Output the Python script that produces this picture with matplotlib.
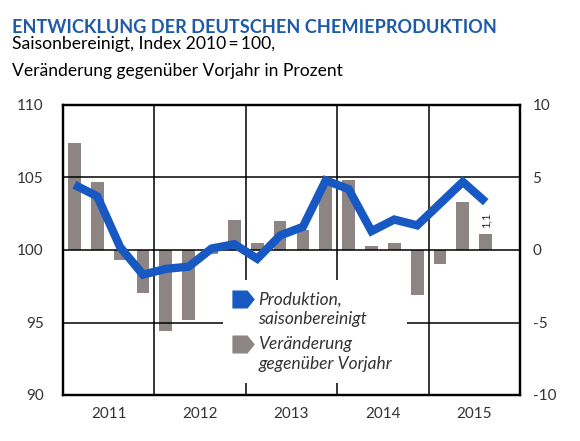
import matplotlib
matplotlib.use("Agg")
import matplotlib.pyplot as plt
import numpy as np
from matplotlib.patches import Rectangle
from matplotlib.path import Path

plt.rcParams["font.family"] = ["Lato", "DejaVu Sans"]

years = ["2011", "2012", "2013", "2014", "2015"]
# Produktion, saisonbereinigt (Index 2010 = 100), quarterly Q1/2011 .. Q3/2015
production = [104.5, 103.7, 100.2, 98.3, 98.7, 98.85, 100.1, 100.4, 99.4, 101.0,
              101.6, 104.8, 104.2, 101.3, 102.1, 101.7, 103.2, 104.7, 103.3]
# Veränderung gegenüber Vorjahr in Prozent
change = [7.4, 4.7, -0.7, -3.0, -5.6, -4.8, -0.3, 2.1, 0.5, 2.0,
          1.4, 4.4, 4.8, 0.3, 0.5, -3.1, -1.0, 3.3, 1.1]
last_label = "1,1"
legend_labels = [("Produktion,", "saisonbereinigt"), ("Veränderung", "gegenüber Vorjahr")]

blue = "#1758c2"
grey = "#8c8583"
title_blue = "#1d5aa8"
text_col = "#333333"

fig = plt.figure(figsize=(5.8, 4.41), dpi=100)
ax = fig.add_axes([63 / 580, 1 - 395 / 441, 457 / 580, 290 / 441])
ax2 = ax.twinx()
ax.set_zorder(ax2.get_zorder() + 1)
ax.patch.set_visible(False)

x = np.arange(len(production))
ax2.bar(x, change, width=0.56, color=grey, zorder=2)
ax2.set_ylim(-10, 10)
ax2.set_yticks([10, 5, 0, -5, -10])
ax2.set_yticklabels(["10", "5", "0", "-5", "-10"])

ax.plot(x, production, color=blue, lw=6, solid_joinstyle="miter", solid_capstyle="butt", zorder=3)
ax.set_ylim(90, 110)
ax.set_xlim(-0.5, 4 * len(years) - 0.5)
ax.set_yticks([110, 105, 100, 95, 90])

# year boundaries as gridlines, year names centered in between
ax.set_xticks([4 * i - 0.5 for i in range(1, len(years))])
ax.set_xticklabels([])
ax.set_xticks([4 * i + 1.5 for i in range(len(years))], minor=True)
ax.set_xticklabels(years, minor=True)
ax.grid(True, which="major", color="black", lw=1.1)

ax2.text(x[-1], change[-1] + 0.45, last_label, rotation=90, ha="center", va="bottom",
         fontsize=8, color=text_col)

for a in (ax, ax2):
    for s in a.spines.values():
        s.set_linewidth(1.6)
    a.tick_params(which="both", length=0, labelsize=11, colors=text_col)
ax.tick_params(axis="y", pad=14)
ax2.tick_params(axis="y", pad=9)
ax.tick_params(axis="x", which="minor", pad=9)

# legend: white box over the grid, tag markers aligned with first text line
ax.add_patch(Rectangle((0.350, 0.041), 0.403, 0.356, transform=ax.transAxes,
                       facecolor="white", edgecolor="none", zorder=4))
tag = Path([(-1, -0.8), (0.35, -0.8), (1, 0), (0.35, 0.8), (-1, 0.8), (-1, -0.8)],
           [Path.MOVETO, Path.LINETO, Path.LINETO, Path.LINETO, Path.LINETO, Path.CLOSEPOLY])
for i, (color, (l1, l2)) in enumerate(zip([blue, grey], legend_labels)):
    y0 = 0.312 - i * 0.155
    ax.plot([0.393], [y0 + 0.019], marker=tag, markersize=15, color=color, linestyle="none",
            transform=ax.transAxes, zorder=5, clip_on=False)
    ax.text(0.427, y0, l1, transform=ax.transAxes, fontsize=12.5, style="italic",
            color=text_col, va="baseline", zorder=6)
    ax.text(0.427, y0 - 0.066, l2, transform=ax.transAxes, fontsize=12.5, style="italic",
            color=text_col, va="baseline", zorder=6)

fig.text(12 / 580, 1 - 33 / 441, "ENTWICKLUNG DER DEUTSCHEN CHEMIEPRODUKTION",
         fontsize=13.1, fontweight="bold", color=title_blue, ha="left", va="baseline")
fig.text(12 / 580, 1 - 48.5 / 441, "Saisonbereinigt, Index 2010\u2009=\u2009100,",
         fontsize=12.6, color="black", ha="left", va="baseline")
fig.text(12 / 580, 1 - 76 / 441, "Veränderung gegenüber Vorjahr in Prozent",
         fontsize=12.6, color="black", ha="left", va="baseline")

fig.savefig("out.png", dpi=100)
